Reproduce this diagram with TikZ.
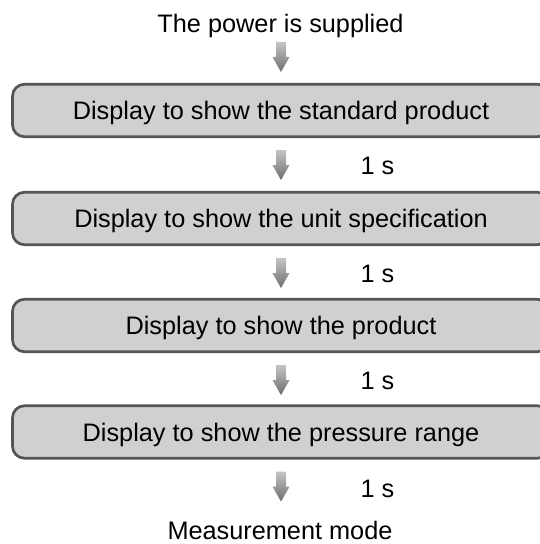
\documentclass[tikz,border=0pt]{standalone}
\usepackage{fontspec}
\setmainfont{Liberation Sans}
\usetikzlibrary{calc}
\definecolor{boxfill}{HTML}{D0D0D0}
\definecolor{boxborder}{HTML}{555555}
\definecolor{arrowtop}{HTML}{C4C4C4}
\definecolor{arrowbot}{HTML}{6E6E6E}
\newcommand{\blockarrow}[1]{%
  \shade[top color=arrowtop,bottom color=arrowbot]
    (#1) ++(-5,0) -- ++(10,0) -- ++(0,-15) -- ++(3.5,0) -- ++(-8.5,-15)
    -- ++(-8.5,15) -- ++(3.5,0) -- cycle;}
\begin{document}
\begin{tikzpicture}[x=1pt,y=1pt,font=\fontsize{25.3}{30}\selectfont,
  stepbox/.style={draw=boxborder,line width=2.7pt,fill=boxfill,
    rounded corners=12pt,minimum width=537pt,minimum height=52.5pt,
    inner sep=0pt,text height=19pt,text depth=0pt},
  plain/.style={inner sep=0pt,anchor=base},
  delay/.style={inner sep=0pt,anchor=base}]
\useasboundingbox (0,0) rectangle (540,544);
\node[plain] (title) at (280.5,511) {The power is supplied};
\node[stepbox] (b1) at (281,433.5) {Display to show the standard product};
\node[stepbox] (b2) at (281,325.5) {Display to show the unit specification};
\node[stepbox] (b3) at (281,218.5) {Display to show the product};
\node[stepbox] (b4) at (281,112) {Display to show the pressure range};
\node[plain] (meas) at (280,5) {Measurement mode};
\node[delay] (d1) at (377.5,369) {1 s};
\node[delay] (d2) at (377.5,261) {1 s};
\node[delay] (d3) at (377.5,154) {1 s};
\node[delay] (d4) at (377.5,46) {1 s};
\coordinate (a1) at ($(title.base)+(0.5,-9)$);
\coordinate (a2) at ($(b1.south)+(0,-12)$);
\coordinate (a3) at ($(b2.south)+(0,-12)$);
\coordinate (a4) at ($(b3.south)+(0,-12)$);
\coordinate (a5) at ($(b4.south)+(0,-12)$);
\blockarrow{a1}
\blockarrow{a2}
\blockarrow{a3}
\blockarrow{a4}
\blockarrow{a5}
\end{tikzpicture}
\end{document}
